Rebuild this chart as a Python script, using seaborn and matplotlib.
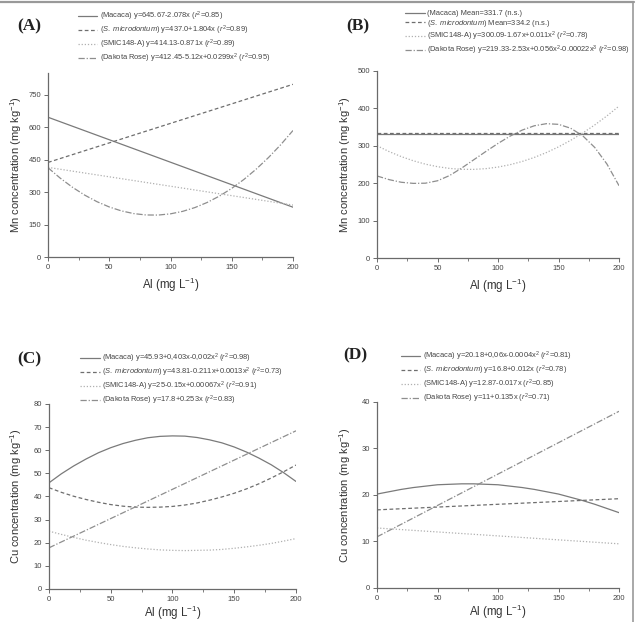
import numpy as np
import pandas as pd
from matplotlib import pyplot as plt
from matplotlib.lines import Line2D
from matplotlib.ticker import MultipleLocator
import seaborn as sns

# x positions (Al, mg L-1)
x_grid = [0, 10, 20, 30, 40, 50, 60, 70, 80, 90, 100,
          110, 120, 130, 140, 150, 160, 170, 180, 190, 200]
x_ends = [0, 200]

# (A) Mn
mn_a_macaca = [645.7, 230.1]
mn_a_smicro = [437.0, 797.8]
mn_a_smic148 = [414.1, 239.9]
mn_a_dakota = [412.5, 364.2, 322.0, 285.8, 255.5, 231.2, 212.9, 200.6, 194.2, 193.8, 199.5,
               211.0, 228.6, 252.2, 281.7, 317.2, 358.7, 406.2, 459.6, 519.0, 584.5]

# (B) Mn
mn_b_macaca = [331.7, 331.7]
mn_b_smicro = [334.2, 334.2]
mn_b_smic148 = [300.1, 284.5, 271.1, 259.9, 250.9, 244.1, 239.5, 237.1, 236.9, 238.9, 243.1,
                249.5, 258.1, 268.9, 281.9, 297.1, 314.5, 334.1, 355.9, 379.9, 406.1]
mn_b_dakota = [219.3, 209.5, 202.5, 199.5, 200.0, 206.5, 220.5, 240.5, 262.7, 284.9, 306.3,
               325.8, 342.0, 353.5, 359.1, 357.3, 347.0, 326.8, 295.3, 251.3, 193.3]

# (C) Cu
cu_c_macaca = [45.9, 49.8, 53.2, 56.2, 58.9, 61.1, 62.9, 64.3, 65.4, 66.0, 66.2,
               66.1, 65.5, 64.5, 63.2, 61.4, 59.2, 56.6, 53.7, 50.3, 46.5]
cu_c_smicro = [43.8, 41.8, 40.1, 38.7, 37.5, 36.5, 35.8, 35.4, 35.3, 35.4, 35.7,
               36.3, 37.2, 38.4, 39.8, 41.4, 43.3, 45.5, 48.0, 50.7, 53.6]
cu_c_smic148 = [25.0, 23.6, 22.3, 21.1, 20.1, 19.2, 18.4, 17.8, 17.3, 16.9, 16.7,
                16.6, 16.7, 16.8, 17.1, 17.6, 18.2, 18.9, 19.7, 20.7, 21.8]
cu_c_dakota = [17.8, 68.4]

# (D) Cu
cu_d_macaca = [20.2, 20.7, 21.2, 21.6, 21.9, 22.2, 22.3, 22.4, 22.4, 22.3, 22.2,
               21.9, 21.6, 21.2, 20.7, 20.2, 19.5, 18.8, 18.0, 17.1, 16.2]
cu_d_smicro = [16.8, 19.2]
cu_d_smic148 = [12.9, 9.5]
cu_d_dakota = [11.0, 38.0]

labels_a = [r"(Macaca) y=645.67-2.078x ($\mathit{r}^2$=0.85)",
            r"($\mathit{S.\ microdontum}$) y=437.0+1.804x ($\mathit{r}^2$=0.89)",
            r"(SMIC148-A) y=414.13-0.871x ($\mathit{r}^2$=0.89)",
            r"(Dakota Rose) y=412.45-5.12x+0.0299x$^2$ ($\mathit{r}^2$=0.95)"]
labels_b = [r"(Macaca) Mean=331.7 (n.s.)",
            r"($\mathit{S.\ microdontum}$) Mean=334.2 (n.s.)",
            r"(SMIC148-A) y=300.09-1.67x+0.011x$^2$ ($\mathit{r}^2$=0.78)",
            r"(Dakota Rose) y=219.33-2.53x+0.056x$^2$-0.00022x$^3$ ($\mathit{r}^2$=0.98)"]
labels_c = [r"(Macaca) y=45.93+0,403x-0,002x$^2$ ($\mathit{r}^2$=0.98)",
            r"($\mathit{S.\ microdontum}$) y=43.81-0.211x+0.0013x$^2$ ($\mathit{r}^2$=0.73)",
            r"(SMIC148-A) y=25-0.15x+0.00067x$^2$ ($\mathit{r}^2$=0.91)",
            r"(Dakota Rose) y=17.8+0.253x ($\mathit{r}^2$=0.83)"]
labels_d = [r"(Macaca) y=20.18+0,06x-0.0004x$^2$ ($\mathit{r}^2$=0.81)",
            r"($\mathit{S.\ microdontum}$) y=16.8+0.012x ($\mathit{r}^2$=0.78)",
            r"(SMIC148-A) y=12.87-0.017x ($\mathit{r}^2$=0.85)",
            r"(Dakota Rose) y=11+0.135x ($\mathit{r}^2$=0.71)"]

sns.set_style("ticks")
plt.rcParams['font.family'] = ['Liberation Sans', 'DejaVu Sans']
plt.rcParams['mathtext.fontset'] = 'custom'
plt.rcParams['mathtext.rm'] = 'Liberation Sans'
plt.rcParams['mathtext.it'] = 'Liberation Sans:italic'

# line styles for the four genotypes
styles = [dict(color='#7a7a7a', ls='-'),
          dict(color='#6e6e6e', ls=(0, (3, 2))),
          dict(color='#b0b0b0', ls=(0, (1, 1.5))),
          dict(color='#8e8e8e', ls=(0, (5, 1.5, 1, 1.5)))]

fig = plt.figure(figsize=(6.36, 6.22), dpi=100)

panels = [
    dict(pos=[0.0755, 0.5868, 0.3852, 0.2958], tag='(A)', tagxy=(0.046, 0.958),
         legxy=(0.1226, 0.984), ylim=850, ystep=150, ylabel="Mn concentration (mg kg$^{-1}$)",
         xlab_y=-0.10,
         series=[(x_ends, mn_a_macaca), (x_ends, mn_a_smicro), (x_ends, mn_a_smic148), (x_grid, mn_a_dakota)],
         labels=labels_a),
    dict(pos=[0.5928, 0.5852, 0.3805, 0.3007], tag='(B)', tagxy=(0.563, 0.958),
         legxy=(0.6368, 0.984), ylim=500, ystep=100, ylabel="Mn concentration (mg kg$^{-1}$)",
         xlab_y=-0.10,
         series=[(x_ends, mn_b_macaca), (x_ends, mn_b_smicro), (x_grid, mn_b_smic148), (x_grid, mn_b_dakota)],
         labels=labels_b),
    dict(pos=[0.0770, 0.0531, 0.3884, 0.2974], tag='(C)', tagxy=(0.046, 0.423),
         legxy=(0.1258, 0.4345), ylim=80, ystep=10, ylabel="Cu concentration (mg kg$^{-1}$)",
         xlab_y=-0.078,
         series=[(x_grid, cu_c_macaca), (x_grid, cu_c_smicro), (x_grid, cu_c_smic148), (x_ends, cu_c_dakota)],
         labels=labels_c),
    dict(pos=[0.5928, 0.0547, 0.3805, 0.2990], tag='(D)', tagxy=(0.558, 0.428),
         legxy=(0.6305, 0.4377), ylim=40, ystep=10, ylabel="Cu concentration (mg kg$^{-1}$)",
         xlab_y=-0.078,
         series=[(x_grid, cu_d_macaca), (x_ends, cu_d_smicro), (x_ends, cu_d_smic148), (x_ends, cu_d_dakota)],
         labels=labels_d),
]

for p in panels:
    ax = fig.add_axes(p['pos'])
    for (xs, ys), lab, st in zip(p['series'], p['labels'], styles):
        sns.lineplot(x=xs, y=ys, ax=ax, label=lab, lw=0.9, **st)
    ax.set_xlim(0, 200)
    ax.set_ylim(0, p['ylim'])
    ax.xaxis.set_major_locator(MultipleLocator(50))
    ax.xaxis.set_minor_locator(MultipleLocator(25))
    ax.set_yticks(np.arange(0, p['ylim'] - p['ylim'] % p['ystep'] + 1, p['ystep']))
    sns.despine(ax=ax)
    for s in ['left', 'bottom']:
        ax.spines[s].set_color('#6a6a6a')
        ax.spines[s].set_linewidth(0.9)
    ax.tick_params(which='major', length=3, width=0.7, color='#6a6a6a',
                   labelsize=5.5, labelcolor='#444444', pad=2)
    ax.tick_params(which='minor', length=2, width=0.6, color='#6a6a6a')
    ax.set_xlabel("Al (mg L$^{-1}$)", fontsize=8.3, color='#333333')
    ax.set_ylabel(p['ylabel'], fontsize=8, color='#333333')
    ax.xaxis.set_label_coords(0.5, p['xlab_y'])
    ax.yaxis.set_label_coords(-0.10, 0.5)
    ax.legend(loc='upper left', bbox_to_anchor=p['legxy'], bbox_transform=fig.transFigure,
              frameon=False, fontsize=5.4, handlelength=2.6, handletextpad=0.35,
              labelspacing=0.1, borderpad=0, borderaxespad=0, labelcolor='#444444')
    fig.text(p['tagxy'][0], p['tagxy'][1], p['tag'], family='Liberation Serif',
             fontweight='bold', fontsize=12.5, color='#222222', ha='center', va='center')

# gray frame lines at top and right of the figure
fig.add_artist(Line2D([0, 0.997], [0.9965, 0.9965], transform=fig.transFigure, color='#999999', lw=1.6))
fig.add_artist(Line2D([0.9955, 0.9955], [0, 0.9965], transform=fig.transFigure, color='#999999', lw=1.2))

plt.savefig('out.png', dpi=100)
